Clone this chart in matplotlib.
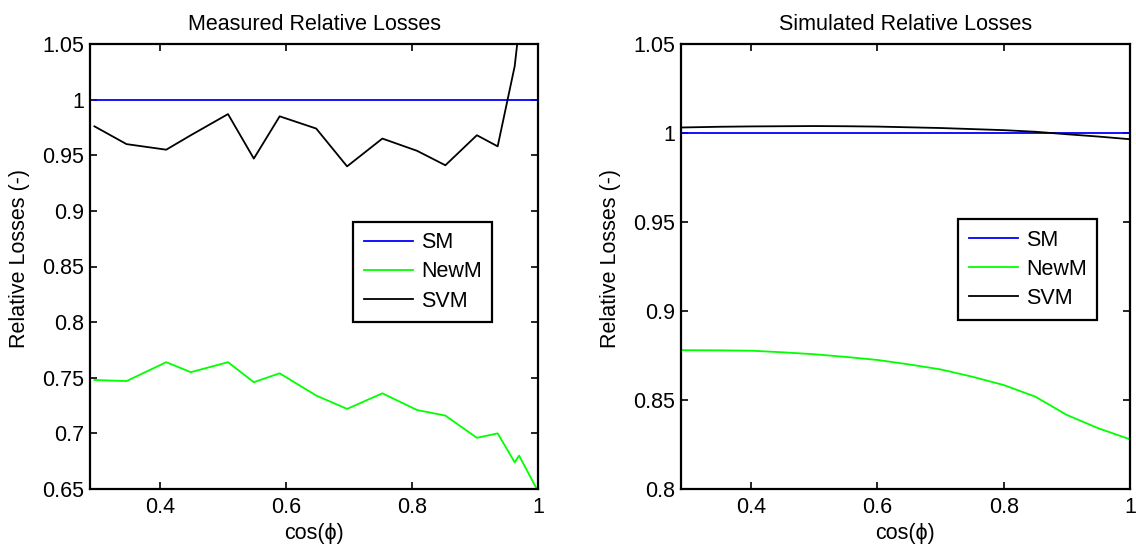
import matplotlib
matplotlib.use("Agg")
import matplotlib.pyplot as plt

plt.rcParams['font.family'] = ['Liberation Sans', 'DejaVu Sans']
FS = 15.5

# Measured losses, relative to SM
pf_meas = [0.296, 0.347, 0.410, 0.449, 0.508, 0.549, 0.590, 0.648, 0.697,
           0.753, 0.808, 0.853, 0.903, 0.936, 0.963, 0.970, 1.000]
sm_meas = [1.0] * len(pf_meas)
newm_meas = [0.748, 0.747, 0.764, 0.755, 0.764, 0.746, 0.754, 0.734, 0.722,
             0.736, 0.721, 0.716, 0.696, 0.700, 0.674, 0.680, 0.648]
svm_meas = [0.976, 0.960, 0.955, 0.968, 0.987, 0.947, 0.985, 0.974, 0.940,
            0.965, 0.954, 0.941, 0.968, 0.958, 1.030, 1.065, 1.120]

# Simulated losses, relative to SM
pf_sim = [0.29, 0.35, 0.40, 0.45, 0.50, 0.55, 0.60, 0.65, 0.70, 0.75,
          0.80, 0.85, 0.90, 0.95, 1.00]
sm_sim = [1.0] * len(pf_sim)
newm_sim = [0.8780, 0.8779, 0.8777, 0.8768, 0.8757, 0.8742, 0.8725, 0.8700,
            0.8672, 0.8631, 0.8584, 0.8519, 0.8416, 0.8341, 0.8279]
svm_sim = [1.0031, 1.0035, 1.0037, 1.0038, 1.0039, 1.0038, 1.0036, 1.0032,
           1.0028, 1.0022, 1.0016, 1.0007, 0.9993, 0.9980, 0.9965]

x_ticks = [0.4, 0.6, 0.8, 1.0]
x_ticklabels = ['0.4', '0.6', '0.8', '1']
meas_yticks = [0.65, 0.7, 0.75, 0.8, 0.85, 0.9, 0.95, 1.0, 1.05]
meas_yticklabels = ['0.65', '0.7', '0.75', '0.8', '0.85', '0.9', '0.95', '1', '1.05']
sim_yticks = [0.8, 0.85, 0.9, 0.95, 1.0, 1.05]
sim_yticklabels = ['0.8', '0.85', '0.9', '0.95', '1', '1.05']

W, H = 1136, 547
fig = plt.figure(figsize=(W / 100, H / 100), dpi=100)
ax1 = fig.add_axes([90 / W, 1 - 489 / H, 448 / W, 445 / H])
ax2 = fig.add_axes([681 / W, 1 - 489 / H, 449 / W, 445 / H])

blue, green, black = '#0000ff', '#00ff00', '#000000'


def style(ax, title, yt, ytl, ylim, leg_anchor):
    ax.set_xlim(0.289, 1.0)
    ax.set_ylim(*ylim)
    ax.set_xticks(x_ticks)
    ax.set_xticklabels(x_ticklabels)
    ax.set_yticks(yt)
    ax.set_yticklabels(ytl)
    ax.tick_params(direction='in', top=True, right=True, length=5, width=1.2,
                   labelsize=FS)
    ax.tick_params(axis='x', pad=6)
    ax.tick_params(axis='y', pad=4)
    for s in ax.spines.values():
        s.set_linewidth(1.6)
    ax.set_title(title, fontsize=FS, pad=10)
    ax.set_xlabel('cos(ϕ)', fontsize=FS, labelpad=3)
    ax.set_ylabel('Relative Losses (-)', fontsize=FS)
    ax.yaxis.set_label_coords(-0.134, 0.517)
    leg = ax.legend(loc='upper left', bbox_to_anchor=leg_anchor, borderaxespad=0,
                    fancybox=False, edgecolor='black', framealpha=1,
                    handlelength=2.3, handletextpad=0.35, labelspacing=0.38,
                    borderpad=0.5, fontsize=FS)
    leg.get_frame().set_linewidth(1.6)


ax1.plot(pf_meas, sm_meas, color=blue, lw=1.3, label='SM')
ax1.plot(pf_meas, newm_meas, color=green, lw=1.3, label='NewM')
ax1.plot(pf_meas, svm_meas, color=black, lw=1.3, label='SVM')
style(ax1, 'Measured Relative Losses', meas_yticks, meas_yticklabels,
      (0.65, 1.05), (0.587, 0.601))

ax2.plot(pf_sim, sm_sim, color=blue, lw=1.3, label='SM')
ax2.plot(pf_sim, newm_sim, color=green, lw=1.3, label='NewM')
ax2.plot(pf_sim, svm_sim, color=black, lw=1.3, label='SVM')
style(ax2, 'Simulated Relative Losses', sim_yticks, sim_yticklabels,
      (0.8, 1.05), (0.617, 0.607))

fig.savefig('out.png', dpi=100)
